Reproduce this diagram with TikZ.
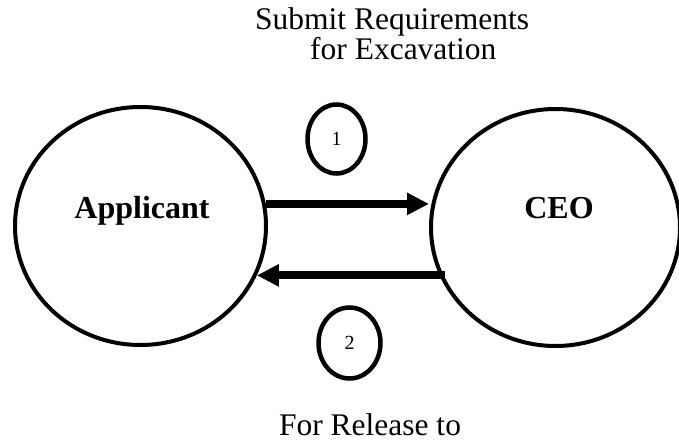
\documentclass[tikz,border=0pt]{standalone}
\usepackage{fontspec}
\setmainfont{Liberation Serif}
\usetikzlibrary{shapes.geometric,arrows.meta}
\begin{document}
\begin{tikzpicture}[x=1pt,y=-1pt,
  actor/.style={ellipse,draw,line width=4pt,inner sep=0pt},
  actorname/.style={inner sep=0pt,font=\fontsize{32}{36}\selectfont\bfseries},
  stepno/.style={ellipse,draw,line width=4.5pt,inner sep=0pt,font=\fontsize{20}{24}\selectfont},
  caption/.style={inner sep=0pt,font=\fontsize{31.5}{30}\selectfont},
  flow/.style={line width=8pt,-{Triangle[length=22pt,width=21pt]}}]
  \useasboundingbox (0,0) rectangle (679,441);
  % actors
  \node[actor,minimum width=251pt,minimum height=238pt] (app) at (140.5,226) {};
  \node[actor,minimum width=249pt,minimum height=237pt] (ceo) at (555.5,227.5) {};
  \node[actorname,anchor=base] (applbl) at ([xshift=1.5pt,yshift=8pt]app.center) {Applicant};
  \node[actorname,anchor=base] (ceolbl) at ([xshift=3.5pt,yshift=9.5pt]ceo.center) {CEO};
  % flows
  \draw[flow] (app.10) -- (ceo.west |- app.10);
  \draw[flow] ([xshift=16pt]ceo.west |- app.-23) -- (app.-23);
  % step numbers
  \node[stepno,minimum width=58pt,minimum height=69pt] (one) at (336.5,139) {1};
  \node[stepno,minimum width=62pt,minimum height=71pt] (two) at (349.5,343) {2};
  % captions
  \node[caption,align=left,anchor=north west] (submit) at (255,7.5)
    {Submit Requirements\\\hspace*{55pt}for Excavation};
  \node[caption,anchor=base] (release) at (370,435) {For Release to};
\end{tikzpicture}
\end{document}
